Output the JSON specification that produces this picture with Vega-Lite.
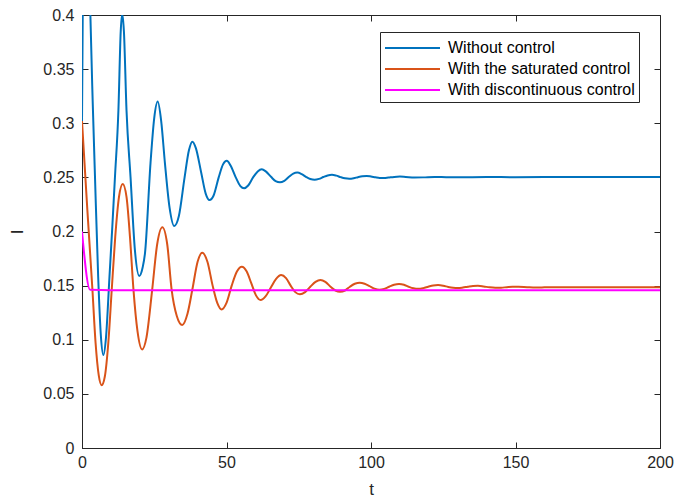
{
  "$schema": "https://vega.github.io/schema/vega-lite/v6.json",
  "width": 578,
  "height": 433,
  "autosize": {"type": "none"},
  "padding": {"left": 82, "top": 15, "right": 30, "bottom": 55},
  "background": "white",
  "config": {
    "font": "Liberation Sans",
    "view": {"stroke": "#262626", "strokeWidth": 1},
    "axis": {
      "grid": false,
      "labelFont": "Liberation Sans",
      "labelFontSize": 16,
      "labelColor": "#262626",
      "labelFlush": false,
      "titleFont": "Liberation Sans",
      "titleFontSize": 17,
      "titleFontWeight": "normal",
      "titleColor": "#262626",
      "tickColor": "#262626",
      "domainColor": "#262626",
      "tickSize": -6,
      "tickWidth": 1,
      "domainWidth": 1
    },
    "legend": {
      "labelFont": "Liberation Sans",
      "labelFontSize": 16,
      "labelColor": "#000000"
    }
  },
  "data": {
    "values": [
      {"s": "Without control", "t": 0, "I": 0.300},
      {"s": "Without control", "t": 0.25, "I": 0.40},
      {"s": "Without control", "t": 1.5, "I": 0.62},
      {"s": "Without control", "t": 2.9, "I": 0.40},
      {"s": "Without control", "t": 3.7, "I": 0.32},
      {"s": "Without control", "t": 4.5, "I": 0.25},
      {"s": "Without control", "t": 5.6, "I": 0.158},
      {"s": "Without control", "t": 6.5, "I": 0.105},
      {"s": "Without control", "t": 7.4, "I": 0.086},
      {"s": "Without control", "t": 8.3, "I": 0.102},
      {"s": "Without control", "t": 9.5, "I": 0.158},
      {"s": "Without control", "t": 10.5, "I": 0.205},
      {"s": "Without control", "t": 11.4, "I": 0.25},
      {"s": "Without control", "t": 12.6, "I": 0.312},
      {"s": "Without control", "t": 13.4, "I": 0.385},
      {"s": "Without control", "t": 13.9, "I": 0.401},
      {"s": "Without control", "t": 14.5, "I": 0.385},
      {"s": "Without control", "t": 15.4, "I": 0.312},
      {"s": "Without control", "t": 16.8, "I": 0.25},
      {"s": "Without control", "t": 18.3, "I": 0.183},
      {"s": "Without control", "t": 19.8, "I": 0.159},
      {"s": "Without control", "t": 21.0, "I": 0.167},
      {"s": "Without control", "t": 21.8, "I": 0.180},
      {"s": "Without control", "t": 23.7, "I": 0.263},
      {"s": "Without control", "t": 25.0, "I": 0.305},
      {"s": "Without control", "t": 26.2, "I": 0.320},
      {"s": "Without control", "t": 27.4, "I": 0.302},
      {"s": "Without control", "t": 28.7, "I": 0.263},
      {"s": "Without control", "t": 30.3, "I": 0.222},
      {"s": "Without control", "t": 31.9, "I": 0.205},
      {"s": "Without control", "t": 33.5, "I": 0.214},
      {"s": "Without control", "t": 35.5, "I": 0.250},
      {"s": "Without control", "t": 37.0, "I": 0.275},
      {"s": "Without control", "t": 38.2, "I": 0.283},
      {"s": "Without control", "t": 39.4, "I": 0.277},
      {"s": "Without control", "t": 41.2, "I": 0.255},
      {"s": "Without control", "t": 42.8, "I": 0.235},
      {"s": "Without control", "t": 44.1, "I": 0.229},
      {"s": "Without control", "t": 45.5, "I": 0.233},
      {"s": "Without control", "t": 47.3, "I": 0.250},
      {"s": "Without control", "t": 48.8, "I": 0.262},
      {"s": "Without control", "t": 50.1, "I": 0.2654},
      {"s": "Without control", "t": 51.4, "I": 0.261},
      {"s": "Without control", "t": 53.2, "I": 0.250},
      {"s": "Without control", "t": 54.8, "I": 0.242},
      {"s": "Without control", "t": 56.1, "I": 0.240},
      {"s": "Without control", "t": 57.5, "I": 0.2425},
      {"s": "Without control", "t": 59.2, "I": 0.250},
      {"s": "Without control", "t": 60.8, "I": 0.2555},
      {"s": "Without control", "t": 62.2, "I": 0.2575},
      {"s": "Without control", "t": 63.6, "I": 0.2555},
      {"s": "Without control", "t": 65.4, "I": 0.2505},
      {"s": "Without control", "t": 67.0, "I": 0.2465},
      {"s": "Without control", "t": 68.5, "I": 0.2454},
      {"s": "Without control", "t": 70.0, "I": 0.2468},
      {"s": "Without control", "t": 71.6, "I": 0.2505},
      {"s": "Without control", "t": 73.1, "I": 0.2535},
      {"s": "Without control", "t": 74.5, "I": 0.2544},
      {"s": "Without control", "t": 76.0, "I": 0.2530},
      {"s": "Without control", "t": 77.5, "I": 0.2505},
      {"s": "Without control", "t": 79.0, "I": 0.2485},
      {"s": "Without control", "t": 80.5, "I": 0.2478},
      {"s": "Without control", "t": 82.0, "I": 0.2486},
      {"s": "Without control", "t": 83.5, "I": 0.2503},
      {"s": "Without control", "t": 85.0, "I": 0.2518},
      {"s": "Without control", "t": 86.5, "I": 0.2524},
      {"s": "Without control", "t": 88.0, "I": 0.2516},
      {"s": "Without control", "t": 89.5, "I": 0.2502},
      {"s": "Without control", "t": 91.0, "I": 0.2491},
      {"s": "Without control", "t": 92.5, "I": 0.2487},
      {"s": "Without control", "t": 94.0, "I": 0.2492},
      {"s": "Without control", "t": 95.5, "I": 0.2502},
      {"s": "Without control", "t": 97.0, "I": 0.2510},
      {"s": "Without control", "t": 98.5, "I": 0.2513},
      {"s": "Without control", "t": 100.0, "I": 0.2508},
      {"s": "Without control", "t": 101.5, "I": 0.2501},
      {"s": "Without control", "t": 103.0, "I": 0.2495},
      {"s": "Without control", "t": 104.5, "I": 0.2494},
      {"s": "Without control", "t": 106.0, "I": 0.2498},
      {"s": "Without control", "t": 108.0, "I": 0.2504},
      {"s": "Without control", "t": 110.0, "I": 0.2507},
      {"s": "Without control", "t": 112.0, "I": 0.2504},
      {"s": "Without control", "t": 115.0, "I": 0.2499},
      {"s": "Without control", "t": 118.0, "I": 0.2500},
      {"s": "Without control", "t": 122.0, "I": 0.2504},
      {"s": "Without control", "t": 126.0, "I": 0.2502},
      {"s": "Without control", "t": 130.0, "I": 0.2501},
      {"s": "Without control", "t": 140.0, "I": 0.2503},
      {"s": "Without control", "t": 150.0, "I": 0.2502},
      {"s": "Without control", "t": 170.0, "I": 0.2503},
      {"s": "Without control", "t": 200.0, "I": 0.2503},

      {"s": "With the saturated control", "t": 0, "I": 0.302},
      {"s": "With the saturated control", "t": 0.45, "I": 0.282},
      {"s": "With the saturated control", "t": 1.85, "I": 0.220},
      {"s": "With the saturated control", "t": 3.6, "I": 0.1466},
      {"s": "With the saturated control", "t": 4.7, "I": 0.097},
      {"s": "With the saturated control", "t": 5.8, "I": 0.067},
      {"s": "With the saturated control", "t": 6.8, "I": 0.058},
      {"s": "With the saturated control", "t": 7.9, "I": 0.066},
      {"s": "With the saturated control", "t": 9.1, "I": 0.097},
      {"s": "With the saturated control", "t": 10.3, "I": 0.1466},
      {"s": "With the saturated control", "t": 11.5, "I": 0.195},
      {"s": "With the saturated control", "t": 12.8, "I": 0.232},
      {"s": "With the saturated control", "t": 14.1, "I": 0.2439},
      {"s": "With the saturated control", "t": 15.4, "I": 0.232},
      {"s": "With the saturated control", "t": 16.6, "I": 0.195},
      {"s": "With the saturated control", "t": 17.8, "I": 0.1466},
      {"s": "With the saturated control", "t": 19.2, "I": 0.108},
      {"s": "With the saturated control", "t": 20.8, "I": 0.0911},
      {"s": "With the saturated control", "t": 22.3, "I": 0.102},
      {"s": "With the saturated control", "t": 24.3, "I": 0.1466},
      {"s": "With the saturated control", "t": 26.0, "I": 0.188},
      {"s": "With the saturated control", "t": 27.8, "I": 0.2039},
      {"s": "With the saturated control", "t": 29.5, "I": 0.188},
      {"s": "With the saturated control", "t": 31.0, "I": 0.1466},
      {"s": "With the saturated control", "t": 32.8, "I": 0.122},
      {"s": "With the saturated control", "t": 34.7, "I": 0.1136},
      {"s": "With the saturated control", "t": 36.5, "I": 0.124},
      {"s": "With the saturated control", "t": 38.2, "I": 0.1466},
      {"s": "With the saturated control", "t": 40.0, "I": 0.172},
      {"s": "With the saturated control", "t": 41.6, "I": 0.1804},
      {"s": "With the saturated control", "t": 43.4, "I": 0.172},
      {"s": "With the saturated control", "t": 45.2, "I": 0.150},
      {"s": "With the saturated control", "t": 46.8, "I": 0.134},
      {"s": "With the saturated control", "t": 48.3, "I": 0.128},
      {"s": "With the saturated control", "t": 50.0, "I": 0.134},
      {"s": "With the saturated control", "t": 51.8, "I": 0.150},
      {"s": "With the saturated control", "t": 53.6, "I": 0.163},
      {"s": "With the saturated control", "t": 55.3, "I": 0.1675},
      {"s": "With the saturated control", "t": 57.0, "I": 0.163},
      {"s": "With the saturated control", "t": 58.6, "I": 0.152},
      {"s": "With the saturated control", "t": 60.2, "I": 0.141},
      {"s": "With the saturated control", "t": 61.8, "I": 0.1367},
      {"s": "With the saturated control", "t": 63.5, "I": 0.140},
      {"s": "With the saturated control", "t": 65.3, "I": 0.148},
      {"s": "With the saturated control", "t": 67.1, "I": 0.156},
      {"s": "With the saturated control", "t": 68.9, "I": 0.1598},
      {"s": "With the saturated control", "t": 70.6, "I": 0.157},
      {"s": "With the saturated control", "t": 72.2, "I": 0.150},
      {"s": "With the saturated control", "t": 73.8, "I": 0.144},
      {"s": "With the saturated control", "t": 75.4, "I": 0.142},
      {"s": "With the saturated control", "t": 77.2, "I": 0.144},
      {"s": "With the saturated control", "t": 79.0, "I": 0.149},
      {"s": "With the saturated control", "t": 80.8, "I": 0.1535},
      {"s": "With the saturated control", "t": 82.5, "I": 0.1552},
      {"s": "With the saturated control", "t": 84.2, "I": 0.1535},
      {"s": "With the saturated control", "t": 86.0, "I": 0.149},
      {"s": "With the saturated control", "t": 87.7, "I": 0.1455},
      {"s": "With the saturated control", "t": 89.3, "I": 0.1443},
      {"s": "With the saturated control", "t": 91.0, "I": 0.1455},
      {"s": "With the saturated control", "t": 92.7, "I": 0.149},
      {"s": "With the saturated control", "t": 94.4, "I": 0.1517},
      {"s": "With the saturated control", "t": 96.1, "I": 0.1527},
      {"s": "With the saturated control", "t": 97.8, "I": 0.1517},
      {"s": "With the saturated control", "t": 99.5, "I": 0.1495},
      {"s": "With the saturated control", "t": 101.2, "I": 0.1472},
      {"s": "With the saturated control", "t": 102.9, "I": 0.1462},
      {"s": "With the saturated control", "t": 104.6, "I": 0.1470},
      {"s": "With the saturated control", "t": 106.3, "I": 0.1490},
      {"s": "With the saturated control", "t": 108.0, "I": 0.1508},
      {"s": "With the saturated control", "t": 109.7, "I": 0.1515},
      {"s": "With the saturated control", "t": 111.4, "I": 0.1508},
      {"s": "With the saturated control", "t": 113.0, "I": 0.1490},
      {"s": "With the saturated control", "t": 114.7, "I": 0.1475},
      {"s": "With the saturated control", "t": 116.4, "I": 0.1470},
      {"s": "With the saturated control", "t": 118.1, "I": 0.1477},
      {"s": "With the saturated control", "t": 119.8, "I": 0.1490},
      {"s": "With the saturated control", "t": 121.5, "I": 0.1502},
      {"s": "With the saturated control", "t": 123.2, "I": 0.1505},
      {"s": "With the saturated control", "t": 125.0, "I": 0.1499},
      {"s": "With the saturated control", "t": 126.7, "I": 0.1488},
      {"s": "With the saturated control", "t": 128.4, "I": 0.1480},
      {"s": "With the saturated control", "t": 130.1, "I": 0.1477},
      {"s": "With the saturated control", "t": 131.8, "I": 0.1482},
      {"s": "With the saturated control", "t": 133.5, "I": 0.1490},
      {"s": "With the saturated control", "t": 135.3, "I": 0.1497},
      {"s": "With the saturated control", "t": 137.0, "I": 0.1498},
      {"s": "With the saturated control", "t": 139.0, "I": 0.1492},
      {"s": "With the saturated control", "t": 141.0, "I": 0.1484},
      {"s": "With the saturated control", "t": 143.0, "I": 0.1480},
      {"s": "With the saturated control", "t": 145.0, "I": 0.1481},
      {"s": "With the saturated control", "t": 147.0, "I": 0.1486},
      {"s": "With the saturated control", "t": 149.0, "I": 0.1490},
      {"s": "With the saturated control", "t": 151.0, "I": 0.1490},
      {"s": "With the saturated control", "t": 154.0, "I": 0.1486},
      {"s": "With the saturated control", "t": 157.0, "I": 0.1483},
      {"s": "With the saturated control", "t": 160.0, "I": 0.1484},
      {"s": "With the saturated control", "t": 165.0, "I": 0.1486},
      {"s": "With the saturated control", "t": 170.0, "I": 0.1485},
      {"s": "With the saturated control", "t": 180.0, "I": 0.1485},
      {"s": "With the saturated control", "t": 200.0, "I": 0.1485},

      {"s": "With discontinuous control", "t": 0, "I": 0.200},
      {"s": "With discontinuous control", "t": 2.8, "I": 0.1462},
      {"s": "With discontinuous control", "t": 10, "I": 0.1458},
      {"s": "With discontinuous control", "t": 200, "I": 0.1458}
    ]
  },
  "resolve": {"axis": {"x": "independent", "y": "independent"}},
  "layer": [
    {
      "mark": {"type": "line", "strokeWidth": 2, "interpolate": "monotone", "clip": true},
      "encoding": {
        "x": {
          "field": "t", "type": "quantitative",
          "scale": {"domain": [0, 200], "nice": false},
          "axis": {"orient": "bottom", "values": [0, 50, 100, 150, 200], "title": "t", "labelPadding": 12, "titleY": 33}
        },
        "y": {
          "field": "I", "type": "quantitative",
          "scale": {"domain": [0, 0.4], "nice": false, "zero": false},
          "axis": {"orient": "left", "values": [0, 0.05, 0.1, 0.15, 0.2, 0.25, 0.3, 0.35, 0.4], "format": "~g", "title": "I", "labelPadding": 14, "titleX": -56, "titleY": 216.5}
        },
        "color": {
          "field": "s", "type": "nominal",
          "scale": {
            "domain": ["Without control", "With the saturated control", "With discontinuous control"],
            "range": ["#0072BD", "#D95319", "#FF00FF"]
          },
          "legend": {
            "title": null,
            "orient": "none",
            "legendX": 298,
            "legendY": 17,
            "symbolType": "M-1,0H4",
            "symbolSize": 484,
            "symbolStrokeWidth": 2,
            "labelOffset": 40,
            "labelLimit": 400,
            "rowPadding": 1,
            "padding": 4,
            "strokeColor": "#262626",
            "fillColor": "white"
          }
        },
        "order": {"field": "t", "type": "quantitative"}
      }
    },
    {
      "mark": {"type": "line", "opacity": 0},
      "encoding": {
        "x": {
          "field": "t", "type": "quantitative",
          "axis": {"orient": "top", "values": [0, 50, 100, 150, 200], "labels": false, "title": null, "domain": false}
        },
        "y": {
          "field": "I", "type": "quantitative",
          "axis": {"orient": "right", "values": [0, 0.05, 0.1, 0.15, 0.2, 0.25, 0.3, 0.35, 0.4], "labels": false, "title": null, "domain": false}
        },
        "detail": {"field": "s"}
      }
    }
  ]
}
